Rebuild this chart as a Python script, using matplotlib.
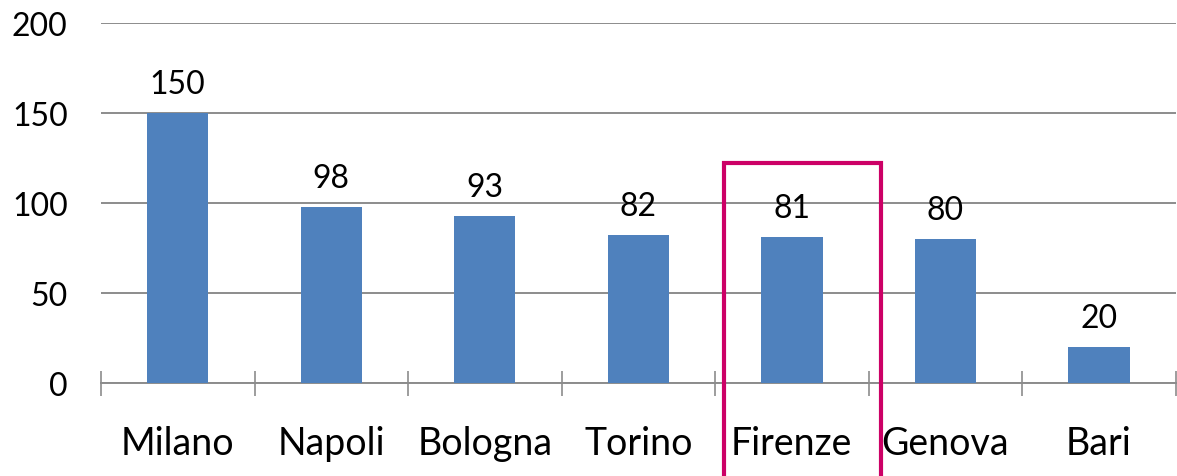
import matplotlib.pyplot as plt
from matplotlib.patches import Rectangle

cities = ['Milano', 'Napoli', 'Bologna', 'Torino', 'Firenze', 'Genova', 'Bari']
values = [150, 98, 93, 82, 81, 80, 20]
highlight = 'Firenze'

plt.rcParams['font.family'] = ['Lato', 'DejaVu Sans']

fig = plt.figure(figsize=(11.77, 4.77), dpi=100)
ax = fig.add_axes([0.0858, 0.195, 0.913, 0.755])

x = range(len(cities))
bars = ax.bar(x, values, width=0.4, color='#4F81BD', zorder=3)

# value labels above the bars
for xi, v in zip(x, values):
    ax.annotate(f'{v}', (xi, v), xytext=(0, 10), textcoords='offset points',
                ha='center', va='bottom', fontsize=23)

ax.set_xlim(-0.5, len(cities) - 0.5)
ax.set_ylim(0, 200)
ax.set_yticks([0, 50, 100, 150, 200])
ax.yaxis.grid(True, color='#8c8c8c', linewidth=1.4, zorder=0)
ax.tick_params(axis='y', length=0, pad=24, labelsize=23)

# categories between cross ticks
ax.set_xticks([i - 0.5 for i in range(len(cities) + 1)])
ax.set_xticklabels([])
ax.set_xticks(list(x), minor=True)
ax.set_xticklabels(cities, minor=True, fontsize=27)
ax.tick_params(axis='x', which='major', direction='inout', length=18,
               width=1.2, color='#8c8c8c')
ax.tick_params(axis='x', which='minor', length=0, pad=30)

for s in ['left', 'top', 'right']:
    ax.spines[s].set_visible(False)
ax.spines['bottom'].set_color('#8c8c8c')
ax.spines['bottom'].set_linewidth(1.4)

# highlight box around one category
i = cities.index(highlight)
ax.add_patch(Rectangle((i - 0.44, -60), 1.02, 182, fill=False,
                       edgecolor='#CC0066', linewidth=3, clip_on=False, zorder=5))

fig.savefig('out.png', dpi=100)
